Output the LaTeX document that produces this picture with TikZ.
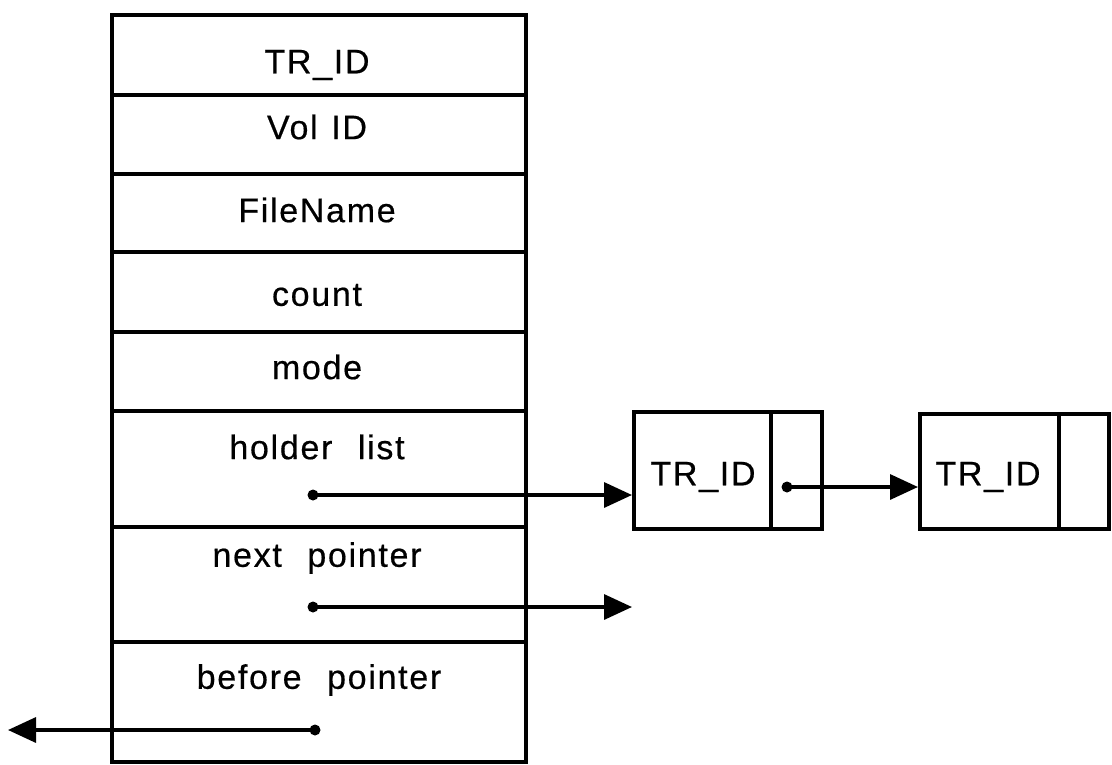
\documentclass[tikz,border=0pt]{standalone}
\usepackage{fontspec}
\setmainfont[LetterSpace=5,FakeBold=0.5]{Liberation Sans}
\usetikzlibrary{arrows.meta}
\tikzset{
  cell/.style={draw, line width=4pt, rectangle, inner sep=0pt, anchor=north west},
  lbl/.style={font=\fontsize{34}{39}\selectfont, inner sep=0pt},
  ptr/.style={fill, circle, inner sep=0pt, minimum size=11pt},
  link/.style={line width=3.4pt, -{Triangle[length=28pt,width=25pt]}}
}
\newcommand{\wgap}{\hspace{0.75em}}
\begin{document}
\begin{tikzpicture}[x=1pt,y=-1pt]
  \useasboundingbox (0,0) rectangle (1112,764);
  % record fields
  \node[cell, minimum width=414pt, minimum height=80pt] (r1) at (110,13) {};
  \node[cell, minimum width=414pt, minimum height=79pt] (r2) at (110,93) {};
  \node[cell, minimum width=414pt, minimum height=78pt] (r3) at (110,172) {};
  \node[cell, minimum width=414pt, minimum height=80pt] (r4) at (110,250) {};
  \node[cell, minimum width=414pt, minimum height=79pt] (r5) at (110,330) {};
  \node[cell, minimum width=414pt, minimum height=116pt] (r6) at (110,409) {};
  \node[cell, minimum width=414pt, minimum height=115pt] (r7) at (110,525) {};
  \node[cell, minimum width=414pt, minimum height=120pt] (r8) at (110,640) {};
  % field names
  \node[lbl] (t1) at (317,65) {TR\_ID};
  \node[lbl] (t2) at (317,127) {Vol\hspace{0.4em}ID};
  \node[lbl] (t3) at (317,210) {FileName};
  \node[lbl] (t4) at (317,295) {count};
  \node[lbl] (t5) at (317,367) {mode};
  \node[lbl] (t6) at (317,447) {holder\wgap list};
  \node[lbl] (t7) at (317,558) {next\wgap pointer};
  \node[lbl] (t8) at (319,680) {before\wgap pointer};
  % holder list entries
  \node[cell, minimum width=137pt, minimum height=117pt] (h1) at (632,410) {};
  \node[cell, minimum width=51pt, minimum height=117pt] (h1p) at (769,410) {};
  \node[cell, minimum width=139pt, minimum height=115pt] (h2) at (918,412) {};
  \node[cell, minimum width=50pt, minimum height=115pt] (h2p) at (1057,412) {};
  \node[lbl] (ht1) at (703,477) {TR\_ID};
  \node[lbl] (ht2) at (988,477) {TR\_ID};
  % pointer origins
  \node[ptr] (p6) at (313,495) {};
  \node[ptr] (p7) at (313,607) {};
  \node[ptr] (p8) at (315,730) {};
  \node[ptr] (ph1) at (787,487) {};
  \coordinate (nextend) at (632,607);
  \coordinate (beforeend) at (8,730);
  % links
  \draw[link] (p6.center) -- (p6.center -| h1.west);
  \draw[link] (p7.center) -- (nextend);
  \draw[link] (p8.center) -- (beforeend);
  \draw[link] (ph1.center) -- (ph1.center -| h2.west);
\end{tikzpicture}
\end{document}
